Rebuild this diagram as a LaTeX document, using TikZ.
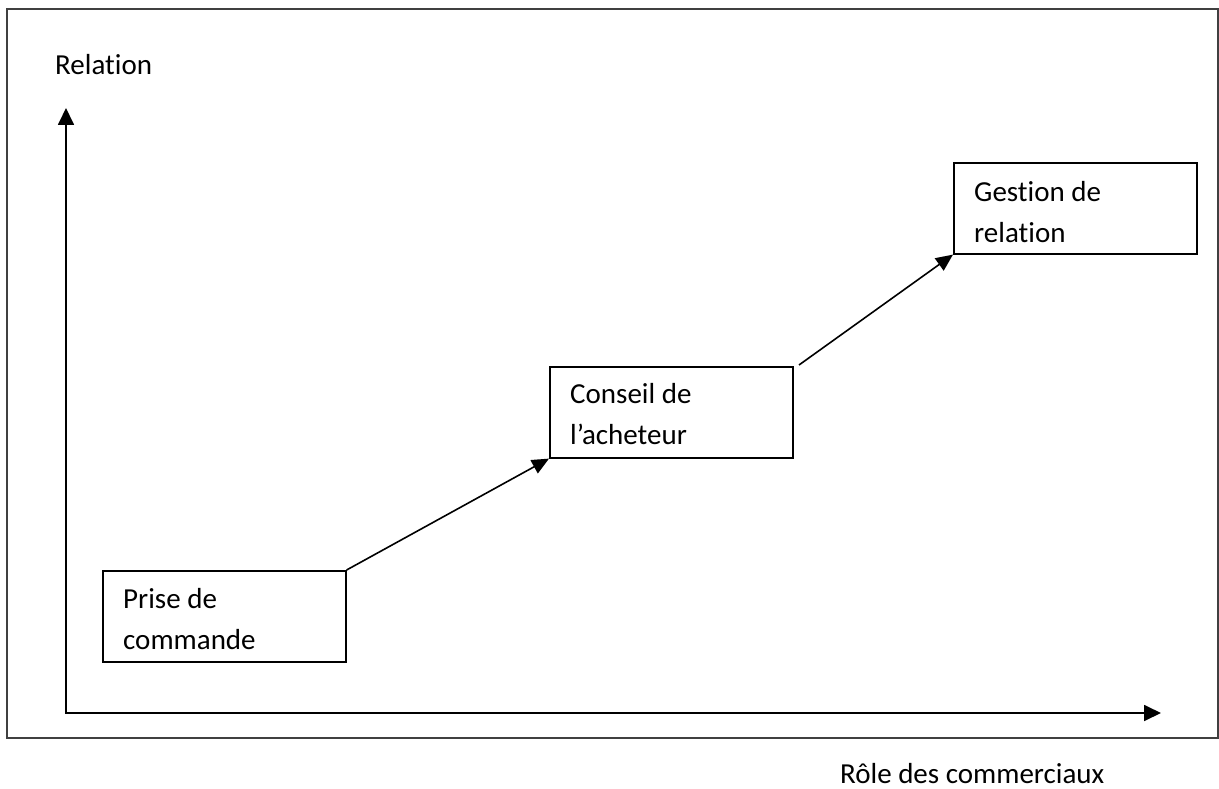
\documentclass[tikz,border=0pt]{standalone}
\usepackage{fontspec}
\setmainfont{Carlito}[Ligatures=NoCommon]
\usetikzlibrary{arrows.meta,calc}

\begin{document}
\begin{tikzpicture}[x=1pt,y=-1pt,
  txt/.style={inner sep=0pt, font=\fontsize{29pt}{41pt}\selectfont},
  stagebox/.style={draw=black, line width=1.6pt, minimum width=243pt,
    minimum height=91pt, inner sep=0pt, anchor=north west},
  axis/.style={line width=1.8pt, -{Triangle[length=17pt,width=16pt]}},
  link/.style={line width=1.6pt, -{Triangle[length=17pt,width=15pt]}},
  outer/.style={draw=black!75, line width=1.8pt}]

  \useasboundingbox (0,0) rectangle (1219,789);

  % outer frame
  \draw[outer] (7,9) rectangle (1218,738);

  % axes
  \coordinate (origin) at (66,713);
  \coordinate (ytop) at (66,108);
  \coordinate (xend) at (1161,713);
  \draw[axis] (origin) -- (ytop);
  \draw[axis] ($(origin)+(-1,0)$) -- (xend);

  \node[txt, anchor=base west] (ylabel) at (55,75) {Relation};
  \node[txt, anchor=base west] (xlabel) at (840,783) {Rôle des commerciaux};

  % stages
  \node[stagebox] (b1) at (102,570) {};
  \node[stagebox] (b2) at (549,366) {};
  \node[stagebox] (b3) at (953,162) {};

  \node[txt, anchor=base west] (t1) at ($(b1.north west)+(21,38)$)
    {\parbox[t]{220pt}{Prise de\\commande}};
  \node[txt, anchor=base west] (t2) at ($(b2.north west)+(21,37)$)
    {\parbox[t]{220pt}{Conseil de\\l’acheteur}};
  \node[txt, anchor=base west] (t3) at ($(b3.north west)+(21,39)$)
    {\parbox[t]{220pt}{Gestion de\\relation}};

  % progression arrows
  \coordinate (s2) at (799,365);
  \draw[link] (b1.north east) -- (b2.south west);
  \draw[link] (s2) -- (b3.south west);
\end{tikzpicture}
\end{document}
